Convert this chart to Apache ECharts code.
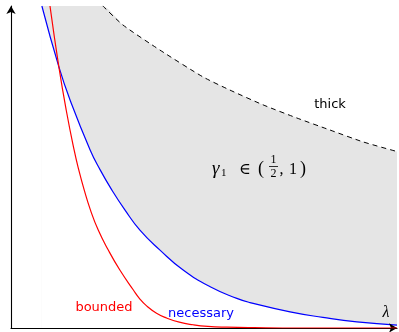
<!DOCTYPE html>
<html>
<head>
<meta charset="utf-8">
<script src="https://cdn.jsdelivr.net/npm/echarts@6/dist/echarts.min.js"></script>
<style>
  html, body { margin: 0; padding: 0; background: #fff; }
  #chart { width: 399px; height: 332px; }
</style>
</head>
<body>
<div id="chart"></div>
<script>
// Blue curve: "necessary" threshold
const necessaryX = [0.80, 1.24, 1.53, 2.05, 2.31, 2.61, 2.95, 3.34, 3.86, 4.46, 5.16, 5.85, 6.19, 7.23, 8.08, 8.96, 10.0];
const necessaryY = [10.0, 8.11, 7.08, 5.53, 4.91, 4.29, 3.67, 3.04, 2.42, 1.80, 1.28, 0.92, 0.79, 0.50, 0.33, 0.19, 0.09];

// Red curve: "bounded" threshold
const boundedX = [1.01, 1.24, 1.43, 1.635, 1.756, 1.896, 2.057, 2.26, 2.52, 2.82, 3.17, 3.34, 3.52, 3.77, 4.03, 4.36, 4.72, 5.10, 5.59, 6.30, 7.50, 10.0];
const boundedY = [10.0, 8.11, 6.77, 5.53, 4.91, 4.29, 3.67, 3.04, 2.42, 1.80, 1.18, 0.90, 0.68, 0.46, 0.31, 0.18, 0.10, 0.05, 0.025, 0.01, 0.0, 0.0];

// Dashed curve: "thick" boundary
const thickX = [2.38, 2.90, 3.86, 4.97, 5.67, 6.53, 7.41, 8.26, 9.12, 10.0];
const thickY = [10.0, 9.41, 8.63, 7.80, 7.39, 6.93, 6.52, 6.15, 5.78, 5.48];

const X_MAX = 10;
const Y_MAX = 10;

const pairs = (xs, ys) => xs.map((x, i) => [x, ys[i]]);
const necessary = pairs(necessaryX, necessaryY);
const bounded = pairs(boundedX, boundedY);
const thick = pairs(thickX, thickY);

// Shaded band: everything under the dashed boundary (capped at the top edge),
// then the part under the blue curve is painted white again.
const bandTop = [[necessaryX[0], Y_MAX]].concat(thick);

const chart = echarts.init(document.getElementById('chart'), null, { renderer: 'canvas' });

const serifFont = '"Liberation Serif", "DejaVu Serif", serif';
const sansFont = '"DejaVu Sans", sans-serif';

const axisCommon = {
  type: 'value',
  min: 0,
  splitLine: { show: false },
  axisTick: { show: false },
  axisLabel: { show: false },
  z: 5,
  axisLine: {
    show: true,
    symbol: ['none', 'arrow'],
    symbolSize: [7, 8],
    lineStyle: { color: '#000', width: 1.1 }
  }
};

const curve = {
  type: 'line',
  smooth: 0.5,
  symbol: 'none'
};

const txt = (x, y, text, font, fill, align) => ({
  type: 'text', z: 10, x, y,
  style: { text, font, fill: fill || '#000', textAlign: align || 'left', textVerticalAlign: 'middle' }
});

chart.setOption({
  animation: false,
  backgroundColor: '#fff',
  grid: { left: 11, right: 2, top: 6, bottom: 4, containLabel: false },
  xAxis: Object.assign({}, axisCommon, { max: X_MAX }),
  yAxis: Object.assign({}, axisCommon, { max: Y_MAX }),
  series: [
    Object.assign({}, curve, {
      name: 'band',
      data: bandTop,
      smooth: 0.2,
      lineStyle: { opacity: 0 },
      areaStyle: { color: '#e5e5e5', opacity: 1 },
      z: 1,
      silent: true
    }),
    Object.assign({}, curve, {
      name: 'under-necessary',
      data: necessary,
      lineStyle: { opacity: 0 },
      areaStyle: { color: '#fff', opacity: 1 },
      z: 2,
      silent: true
    }),
    Object.assign({}, curve, {
      name: 'thick',
      data: thick,
      smooth: 0.2,
      lineStyle: { color: '#000', width: 1, type: [5, 4] },
      z: 3
    }),
    Object.assign({}, curve, {
      name: 'necessary',
      data: necessary,
      lineStyle: { color: '#0000ff', width: 1.2 },
      z: 4
    }),
    Object.assign({}, curve, {
      name: 'bounded',
      data: bounded,
      lineStyle: { color: '#ff0000', width: 1.2 },
      z: 6
    })
  ],
  graphic: [
    txt(330, 105, 'thick', '13px ' + sansFont, '#000', 'center'),
    txt(104, 308, 'bounded', '13px ' + sansFont, '#ff0000', 'center'),
    txt(201, 314, 'necessary', '13px ' + sansFont, '#0000ff', 'center'),
    txt(386, 313, 'λ', 'italic 16px ' + serifFont, '#000', 'center'),
    // γ₁ ∈ (½, 1)
    txt(212, 169, 'γ', 'italic 19px ' + serifFont),
    txt(221, 173.5, '1', '11px ' + serifFont),
    txt(239, 170, '∈', '16px ' + serifFont),
    txt(258, 169, '(', '18px ' + serifFont),
    txt(273.5, 160, '1', '12px ' + serifFont, '#000', 'center'),
    { type: 'line', z: 10, shape: { x1: 269, y1: 166.5, x2: 278, y2: 166.5 }, style: { stroke: '#000', lineWidth: 0.8 } },
    txt(273.5, 174, '2', '12px ' + serifFont, '#000', 'center'),
    txt(279.5, 170, ',', '16px ' + serifFont),
    txt(289, 170, '1', '16px ' + serifFont),
    txt(300, 169, ')', '18px ' + serifFont)
  ]
});
</script>
</body>
</html>
